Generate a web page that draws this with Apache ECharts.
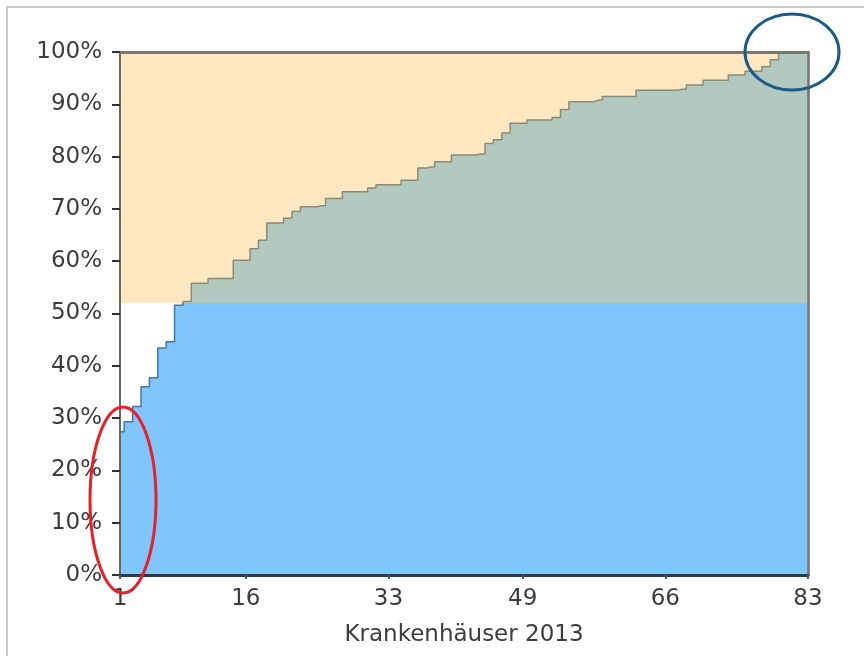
<!DOCTYPE html>
<html>
<head>
<meta charset="utf-8">
<script src="https://cdn.jsdelivr.net/npm/echarts@6/dist/echarts.min.js"></script>
<style>
html,body{margin:0;padding:0;background:#fff;}
#chart{width:864px;height:656px;}
</style>
</head>
<body>
<div id="chart"></div>
<script>
// Cumulative share per hospital (Krankenhäuser 2013), in %
const shares = [27.4, 29.3, 32.2, 36, 37.7, 43.4, 44.6, 51.6, 52.3, 55.8,
  55.8, 56.7, 56.7, 56.7, 60.2, 60.2, 62.4, 64, 67.3, 67.3,
  68.2, 69.5, 70.4, 70.4, 70.6, 72, 72, 73.3, 73.3, 73.3,
  74, 74.6, 74.6, 74.6, 75.5, 75.5, 77.8, 78, 79, 79,
  80.3, 80.3, 80.3, 80.5, 82.5, 83.2, 84.5, 86.4, 86.4, 87,
  87, 87, 87.5, 89, 90.5, 90.5, 90.5, 90.8, 91.5, 91.5,
  91.5, 91.5, 92.7, 92.7, 92.7, 92.7, 92.7, 92.9, 93.7, 93.7,
  94.6, 94.6, 94.6, 95.6, 95.6, 96.3, 96.3, 97.2, 98.5, 100,
  100, 100, 100];
const xTicks = [1, 16, 33, 49, 66, 83];
const threshold = 52;
const xName = 'Krankenhäuser 2013';

const FONT = 'DejaVu Sans';
const TEXT = '#3c3c3c';
const BLUE = '#7fc6fe', GREEN = '#b2c9bf', ORANGE = '#fee7c1';
const LINE_LOW = '#4b7592', LINE_HIGH = '#8c8a77';

const chart = echarts.init(document.getElementById('chart'));
const seriesData = shares.map((v, i) => [i + 1, v]);
const xMin = xTicks[0], xMax = xTicks[xTicks.length - 1];

const option = {
  animation: false,
  backgroundColor: '#fff',
  grid: { left: 120, right: 56, top: 52, bottom: 81 },
  xAxis: [{
    type: 'value', min: xMin, max: xMax, z: 10,
    name: xName, nameLocation: 'middle', nameGap: 49,
    nameTextStyle: { fontFamily: FONT, fontSize: 23, color: TEXT },
    axisLine: { show: true, onZero: false, lineStyle: { color: '#2b3b49', width: 3 } },
    axisTick: { show: true, customValues: xTicks, length: 4, lineStyle: { color: '#555', width: 2 } },
    axisLabel: { customValues: xTicks, margin: 13, fontFamily: FONT, fontSize: 23, color: TEXT },
    splitLine: { show: false }
  }, {
    type: 'value', min: xMin, max: xMax, position: 'top', z: 10,
    axisLine: { show: true, onZero: false, lineStyle: { color: '#7a776c', width: 3 } },
    axisTick: { show: false }, axisLabel: { show: false }, splitLine: { show: false }
  }],
  yAxis: [{
    type: 'value', min: 0, max: 100, interval: 10, z: 10,
    axisLine: { show: true, onZero: false, lineStyle: { color: '#6b675c', width: 2 } },
    axisTick: { show: true, length: 8, lineStyle: { color: '#333', width: 2 } },
    axisLabel: { formatter: '{value}%', margin: 18, fontFamily: FONT, fontSize: 23, color: TEXT },
    splitLine: { show: false }
  }, {
    type: 'value', min: 0, max: 100, interval: 10, position: 'right', z: 10,
    axisLine: { show: true, onZero: false, lineStyle: { color: '#75746e', width: 2.5 } },
    axisTick: { show: false }, axisLabel: { show: false }, splitLine: { show: false }
  }],
  series: [
    {
      id: 'band', type: 'line', data: [], z: 1, silent: true,
      markArea: {
        silent: true,
        itemStyle: { color: ORANGE, opacity: 1 },
        data: [[{ xAxis: xMin, yAxis: threshold }, { xAxis: xMax, yAxis: 100 }]]
      }
    },
    {
      id: 'main', type: 'line', step: 'middle', data: seriesData, z: 3,
      showSymbol: false, symbol: 'none', silent: true,
      lineStyle: { color: LINE_HIGH, width: 1.5 },
      areaStyle: { color: BLUE, opacity: 1 }
    }
  ],
  graphic: [
    { type: 'line', shape: { x1: 6, y1: 7, x2: 864, y2: 7 }, style: { stroke: '#c9c9c9', lineWidth: 2 }, silent: true },
    { type: 'line', shape: { x1: 7, y1: 7, x2: 7, y2: 656 }, style: { stroke: '#c9c9c9', lineWidth: 2 }, silent: true },
    { type: 'ellipse', shape: { cx: 123, cy: 500, rx: 33, ry: 93 }, style: { fill: 'none', stroke: '#ee1c24', lineWidth: 3 }, z: 100, silent: true },
    { type: 'ellipse', shape: { cx: 792, cy: 52, rx: 47, ry: 38 }, style: { fill: 'none', stroke: '#1b5b8a', lineWidth: 3 }, z: 100, silent: true }
  ]
};
chart.setOption(option);

// Split the fill colour at the threshold using a global (pixel) gradient
const yTop = chart.convertToPixel({ yAxisIndex: 0 }, 100);
const yThr = chart.convertToPixel({ yAxisIndex: 0 }, threshold);
const yBot = chart.convertToPixel({ yAxisIndex: 0 }, 0);
const t = (yThr - yTop) / (yBot - yTop);
function splitGrad(top, bottom) {
  return { type: 'linear', x: 0, y: yTop, x2: 0, y2: yBot, global: true,
    colorStops: [ { offset: 0, color: top }, { offset: t, color: top },
                  { offset: t, color: bottom }, { offset: 1, color: bottom } ] };
}
chart.setOption({ series: [ { id: 'band' }, { id: 'main',
  areaStyle: { color: splitGrad(GREEN, BLUE), opacity: 1 },
  lineStyle: { color: splitGrad(LINE_HIGH, LINE_LOW), width: 1.5 } } ] });
</script>
</body>
</html>
